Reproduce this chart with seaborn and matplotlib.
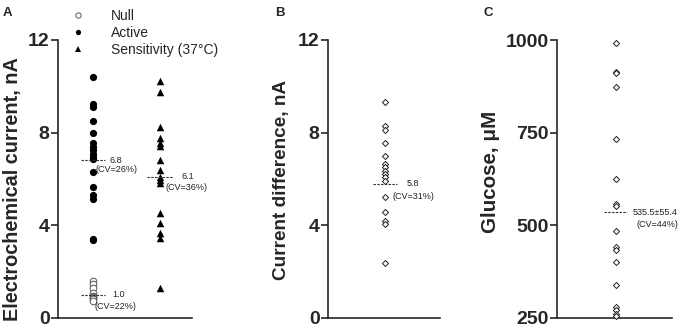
import matplotlib
matplotlib.use("Agg")
import matplotlib.pyplot as plt
import seaborn as sns
import pandas as pd
from matplotlib.lines import Line2D

# ---------------- data ----------------
null_vals = [1.6, 1.45, 1.3, 1.1, 0.95, 0.9, 0.85, 0.8, 0.75]
active_vals = [10.4, 9.25, 9.1, 8.5, 8.0, 7.55, 7.4, 7.25, 7.1, 6.95, 6.85,
               6.3, 5.65, 5.3, 5.15, 3.42, 3.36]
sens_vals = [10.23, 9.77, 8.26, 7.75, 7.57, 7.42, 6.82, 6.39, 6.1, 5.96, 5.81,
             4.52, 4.09, 3.66, 3.47, 1.28]
diff_vals = [9.34, 8.29, 8.11, 7.57, 6.99, 6.65, 6.5, 6.36, 6.21, 6.07, 5.93,
             5.21, 4.59, 4.2, 4.06, 2.36]
glucose_vals = [992, 915, 910, 872, 732, 625, 558, 552, 486, 442, 433, 402,
                339, 280, 271, 262, 255]

columns_a = ["Active", "Sensitivity"]
legend_labels = ["Null", "Active", "Sensitivity (37°C)"]
mean_null, mean_active, mean_sens = 1.0, 6.8, 6.1
mean_diff = 5.8
mean_glucose = 535.5
text_null = ["1.0", "(CV=22%)"]
text_active = ["6.8", "(CV=26%)"]
text_sens = ["6.1", "(CV=36%)"]
text_diff = ["5.8", "(CV=31%)"]
text_glucose = ["535.5±55.4", "(CV=44%)"]
yticks_a = [0, 4, 8, 12]
yticks_c = [250, 500, 750, 1000]

df_a = pd.DataFrame({
    "group": ["Null"] * len(null_vals) + ["Active"] * len(active_vals) + ["Sensitivity"] * len(sens_vals),
    "column": ["Active"] * len(null_vals) + ["Active"] * len(active_vals) + ["Sensitivity"] * len(sens_vals),
    "value": null_vals + active_vals + sens_vals,
})
df_b = pd.DataFrame({"column": ["diff"] * len(diff_vals), "value": diff_vals})
df_c = pd.DataFrame({"column": ["glucose"] * len(glucose_vals), "value": glucose_vals})

# ---------------- style ----------------
sns.set_style("ticks")
plt.rcParams["font.family"] = ["Liberation Sans", "DejaVu Sans"]
plt.rcParams["axes.linewidth"] = 1.2

W, H = 680, 327
fig = plt.figure(figsize=(W / 100, H / 100), dpi=100)

def px_axes(left, right, top=40, bottom=318):
    return fig.add_axes([left / W, 1 - bottom / H, (right - left) / W, (bottom - top) / H])

axA = px_axes(58, 192)
axB = px_axes(328, 440)
axC = px_axes(557, 672)

PX = 0.72  # points per pixel at 100 dpi

def style_axis(ax, ylabel, yticks, ylim, xlim, label_x, label_y, label_size):
    ax.set_ylim(*ylim)
    ax.set_yticks(yticks)
    ax.set_xlim(*xlim)
    ax.set_xticks([])
    ax.set_xlabel("")
    sns.despine(ax=ax)
    ax.tick_params(axis="y", length=5, width=1.2, labelsize=14, pad=1)
    for lab in ax.get_yticklabels():
        lab.set_fontweight("bold")
    ax.set_ylabel(ylabel, fontsize=label_size, fontweight="bold")
    ax.yaxis.set_label_coords(label_x, label_y)

def mean_mark(ax, xpos, half, mean, texts, off_val, off_cv):
    ax.hlines(mean, xpos - half, xpos + half, colors="#333333",
              linestyles=(0, (2.2, 1.2)), linewidth=0.8, zorder=5)
    ax.annotate(texts[0], xy=(xpos, mean), xytext=(off_val[0] * PX, off_val[1] * PX),
                textcoords="offset points", ha="left", va="center", fontsize=6.5,
                color="#222222")
    ax.annotate(texts[1], xy=(xpos, mean), xytext=(off_cv[0] * PX, off_cv[1] * PX),
                textcoords="offset points", ha="left", va="center", fontsize=6.5,
                color="#222222")

# ---------------- panel A ----------------
sub = df_a[df_a.group == "Null"]
sns.stripplot(data=sub, x="column", y="value", order=columns_a, jitter=False, ax=axA,
              marker="o", size=4.8, color="white", edgecolor="#555555", linewidth=0.7,
              clip_on=False, zorder=3)
sub = df_a[df_a.group == "Active"]
sns.stripplot(data=sub, x="column", y="value", order=columns_a, jitter=False, ax=axA,
              marker="o", size=5.2, color="black", linewidth=0, zorder=3)
sub = df_a[df_a.group == "Sensitivity"]
sns.stripplot(data=sub, x="column", y="value", order=columns_a, jitter=False, ax=axA,
              marker="^", size=5.4, color="black", linewidth=0, zorder=3)
style_axis(axA, "Electrochemical current, nA", yticks_a, (0, 12), (-0.52, 1.48),
           -0.265, 0.464, 14.3)
mean_mark(axA, 0, 0.18, mean_active, text_active, (17, 0), (3, -9))
mean_mark(axA, 0, 0.18, mean_null, text_null, (19, 0), (2, -12))
mean_mark(axA, 1, 0.19, mean_sens, text_sens, (22, 0), (6, -11))

handles = [
    Line2D([], [], ls="", marker="o", ms=3.8, mfc="white", mec="#555555", mew=0.7),
    Line2D([], [], ls="", marker="o", ms=3.8, mfc="black", mec="black", mew=0),
    Line2D([], [], ls="", marker="^", ms=3.8, mfc="black", mec="black", mew=0),
]
fig.legend(handles, legend_labels, loc="upper left", bbox_to_anchor=(71 / W, 1 - 9 / H),
           frameon=False, fontsize=10, handlelength=1.0, handletextpad=1.9,
           labelspacing=0.2, borderpad=0, borderaxespad=0)

# ---------------- panel B ----------------
sns.stripplot(data=df_b, x="column", y="value", jitter=False, ax=axB,
              marker="D", size=3.1, color="white", edgecolor="#222222", linewidth=0.7,
              zorder=3)
style_axis(axB, "Current difference, nA", yticks_a, (0, 12), (-0.51, 0.49),
           -0.34, 0.497, 13.7)
mean_mark(axB, 0, 0.11, mean_diff, text_diff, (22, 0), (7, -13))

# ---------------- panel C ----------------
sns.stripplot(data=df_c, x="column", y="value", jitter=False, ax=axC,
              marker="D", size=3.1, color="white", edgecolor="#222222", linewidth=0.7,
              clip_on=False, zorder=3)
style_axis(axC, "Glucose, μM", yticks_c, (250, 1000), (-0.51, 0.49),
           -0.50, 0.527, 14.8)
mean_mark(axC, 0, 0.1, mean_glucose, text_glucose, (17, 0), (21, -12))

# panel letters
for x, letter in [(3, "A"), (275, "B"), (483, "C")]:
    fig.text(x / W, 1 - 7 / H, letter, fontsize=9.5, fontweight="bold", ha="left", va="top")

fig.savefig("out.png", dpi=100)
